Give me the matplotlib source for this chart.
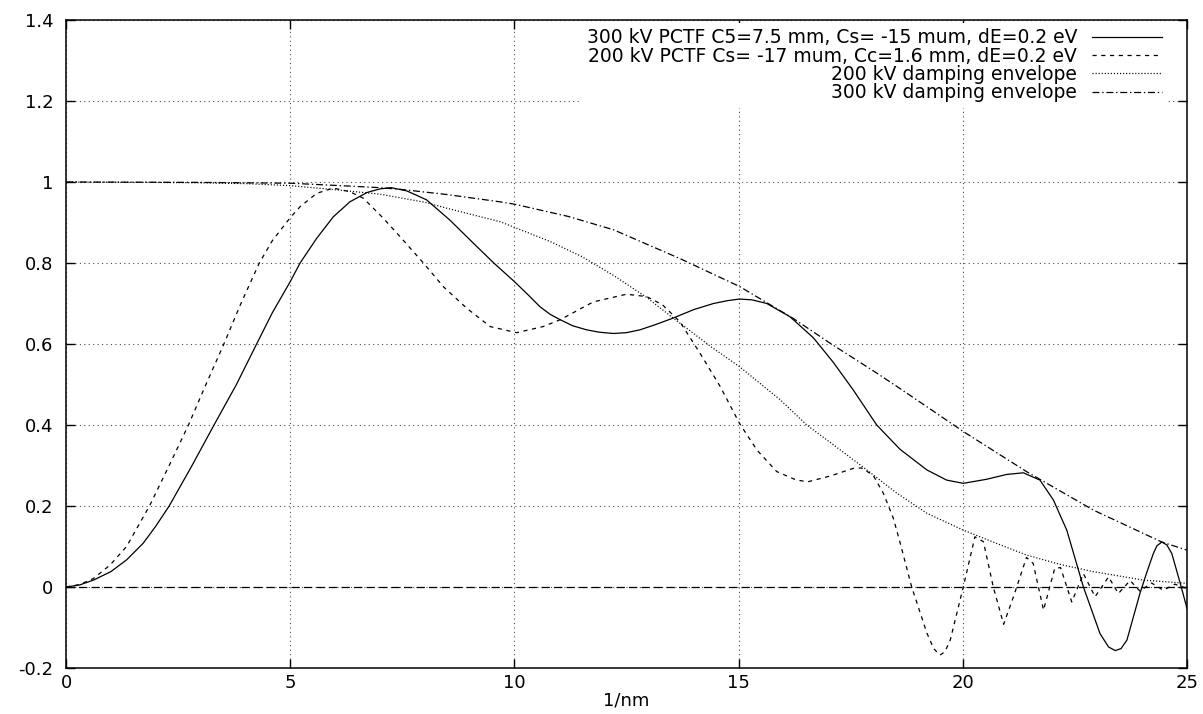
import matplotlib
matplotlib.use("Agg")
import matplotlib.pyplot as plt
from matplotlib.ticker import FuncFormatter

plt.rcParams["font.family"] = ["DejaVu Sans"]
plt.rcParams["lines.scale_dashes"] = False

# 300 kV phase contrast transfer function (solid)
q_300 = [0, 0.3, 0.61, 1.0, 1.35, 1.72, 2.0, 2.3, 2.8, 3.3, 3.8, 4.25, 4.6, 5.0,
         5.22, 5.59, 5.96, 6.33, 6.71, 7.0, 7.25, 7.6, 8.04, 8.56, 9.01, 9.53, 10.0,
         10.3, 10.57, 10.8, 11.02, 11.3, 11.61, 11.9, 12.21, 12.5, 12.8, 13.15, 13.54,
         14.0, 14.44, 14.75, 15.02, 15.3, 15.63, 16.15, 16.67, 17.11, 17.56, 18.08,
         18.6, 19.2, 19.64, 20.01, 20.53, 20.98, 21.35, 21.72, 22.02, 22.32, 22.69,
         23.06, 23.25, 23.4, 23.53, 23.66, 23.95, 24.1, 24.25, 24.33, 24.44, 24.55,
         24.66, 24.85, 25.0]
ctf_300 = [0, 0.005, 0.017, 0.038, 0.067, 0.108, 0.150, 0.2, 0.298, 0.4, 0.5, 0.6,
           0.677, 0.754, 0.8, 0.861, 0.914, 0.951, 0.974, 0.983, 0.986, 0.978, 0.956,
           0.906, 0.857, 0.801, 0.754, 0.722, 0.692, 0.673, 0.66, 0.645, 0.635, 0.629,
           0.626, 0.628, 0.635, 0.648, 0.664, 0.685, 0.7, 0.707, 0.711, 0.709, 0.7,
           0.667, 0.615, 0.555, 0.486, 0.4, 0.34, 0.289, 0.264, 0.256, 0.266, 0.278,
           0.282, 0.264, 0.215, 0.14, 0.0, -0.115, -0.148, -0.157, -0.152, -0.131,
           -0.016, 0.035, 0.083, 0.102, 0.111, 0.104, 0.083, 0.009, -0.053]

# 200 kV phase contrast transfer function (dashed)
q_200 = [0, 0.3, 0.61, 0.98, 1.35, 1.86, 2.3, 2.73, 3.1, 3.52, 3.9, 4.31, 4.6, 5.0,
         5.22, 5.59, 5.96, 6.33, 6.63, 7.08, 7.45, 7.97, 8.42, 8.94, 9.46, 10.05, 10.64,
         11.02, 11.76, 12.5, 12.95, 13.3, 13.69, 14.14, 14.59, 15.02, 15.41, 15.85,
         16.29, 16.55, 17.04, 17.56, 17.74, 18.0, 18.23, 18.45, 18.6, 18.86, 19.2,
         19.35, 19.49, 19.6, 19.72, 20.01, 20.27, 20.46, 20.68, 20.91, 21.13, 21.42,
         21.57, 21.8, 22.05, 22.18, 22.43, 22.69, 22.95, 23.25, 23.47, 23.73, 23.95,
         24.21, 24.47, 24.73, 25.0]
ctf_200 = [0, 0.006, 0.021, 0.054, 0.1, 0.2, 0.3, 0.4, 0.495, 0.6, 0.7, 0.8, 0.855,
           0.912, 0.939, 0.972, 0.985, 0.976, 0.96, 0.91, 0.865, 0.8, 0.741, 0.688,
           0.643, 0.628, 0.643, 0.66, 0.704, 0.723, 0.717, 0.697, 0.655, 0.577, 0.495,
           0.404, 0.338, 0.285, 0.264, 0.26, 0.274, 0.293, 0.294, 0.276, 0.231, 0.17,
           0.11, 0.0, -0.114, -0.152, -0.168, -0.16, -0.131, 0.0, 0.124, 0.112, 0.0,
           -0.092, -0.024, 0.073, 0.058, -0.057, 0.046, 0.048, -0.037, 0.033, -0.024,
           0.025, -0.016, 0.016, -0.01, 0.01, -0.008, 0.007, -0.004]

# damping envelopes
q_env200 = [0, 2, 3, 4, 5, 6, 7, 8, 8.5, 9.68, 10, 10.8, 11.5, 12.2, 12.95, 13.47,
            14.4, 15.02, 15.93, 16.52, 17.2, 17.86, 18.5, 19.2, 20, 20.7, 21.42, 22.2,
            22.91, 24.03, 25]
env_200 = [1, 0.999, 0.998, 0.996, 0.991, 0.981, 0.97, 0.95, 0.935, 0.902, 0.888,
           0.853, 0.816, 0.77, 0.715, 0.67, 0.592, 0.544, 0.462, 0.4, 0.344, 0.289,
           0.234, 0.182, 0.141, 0.11, 0.079, 0.055, 0.038, 0.017, 0.009]

q_env300 = [0, 3, 5, 6.3, 7, 7.45, 8.5, 9.68, 10.01, 11.2, 12.21, 13.69, 15.02, 16.22,
            17.04, 18.07, 18.6, 20.01, 21.42, 22.91, 24.44, 25]
env_300 = [1, 0.999, 0.997, 0.99, 0.986, 0.982, 0.969, 0.951, 0.945, 0.915, 0.882,
           0.811, 0.742, 0.663, 0.602, 0.529, 0.49, 0.384, 0.285, 0.19, 0.111, 0.091]

labels = ["300 kV PCTF C5=7.5 mm, Cs= -15 mum, dE=0.2 eV",
          "200 kV PCTF Cs= -17 mum, Cc=1.6 mm, dE=0.2 eV",
          "200 kV damping envelope",
          "300 kV damping envelope"]

fig = plt.figure(figsize=(12.03, 7.14), dpi=100)
ax = fig.add_axes([0.0549, 0.0644, 0.9318, 0.9076])

ax.plot(q_300, ctf_300, color="black", lw=0.9, label=labels[0], zorder=3)
ax.plot(q_200, ctf_200, color="black", lw=0.9, dashes=(3, 3.3), label=labels[1], zorder=3)
ax.plot(q_env200, env_200, color="black", lw=0.9, dashes=(0.8, 1.4), label=labels[2], zorder=3)
ax.plot(q_env300, env_300, color="black", lw=0.9, dashes=(5, 2, 1, 2), label=labels[3], zorder=3)

# zero axis
ax.axhline(0, color="black", lw=0.9, dashes=(6, 3), zorder=2)

ax.set_xlim(0, 25)
ax.set_ylim(-0.2, 1.4)
ax.set_xticks([0, 5, 10, 15, 20, 25])
ax.set_yticks([-0.2, 0, 0.2, 0.4, 0.6, 0.8, 1.0, 1.2, 1.4])
ax.yaxis.set_major_formatter(FuncFormatter(lambda v, p: "%g" % round(v, 3)))
ax.grid(True, color="0.3", lw=0.8, dashes=(0.8, 2.4), zorder=1)
ax.tick_params(direction="in", length=6.5, width=1, top=True, right=True,
               labelsize=13)
ax.tick_params(axis="y", pad=9)
ax.tick_params(axis="x", pad=4)
for s in ax.spines.values():
    s.set_linewidth(1.1)

ax.set_xlabel("1/nm", fontsize=13, labelpad=0)

leg = ax.legend(loc="upper right", bbox_to_anchor=(0.985, 1.0), markerfirst=False,
                fontsize=13.5, handlelength=3.7, handletextpad=0.8, labelspacing=-0.04,
                borderpad=0.3, borderaxespad=0.15, frameon=True, fancybox=False,
                framealpha=1, edgecolor="none", facecolor="white")

fig.savefig("out.png", dpi=100)
